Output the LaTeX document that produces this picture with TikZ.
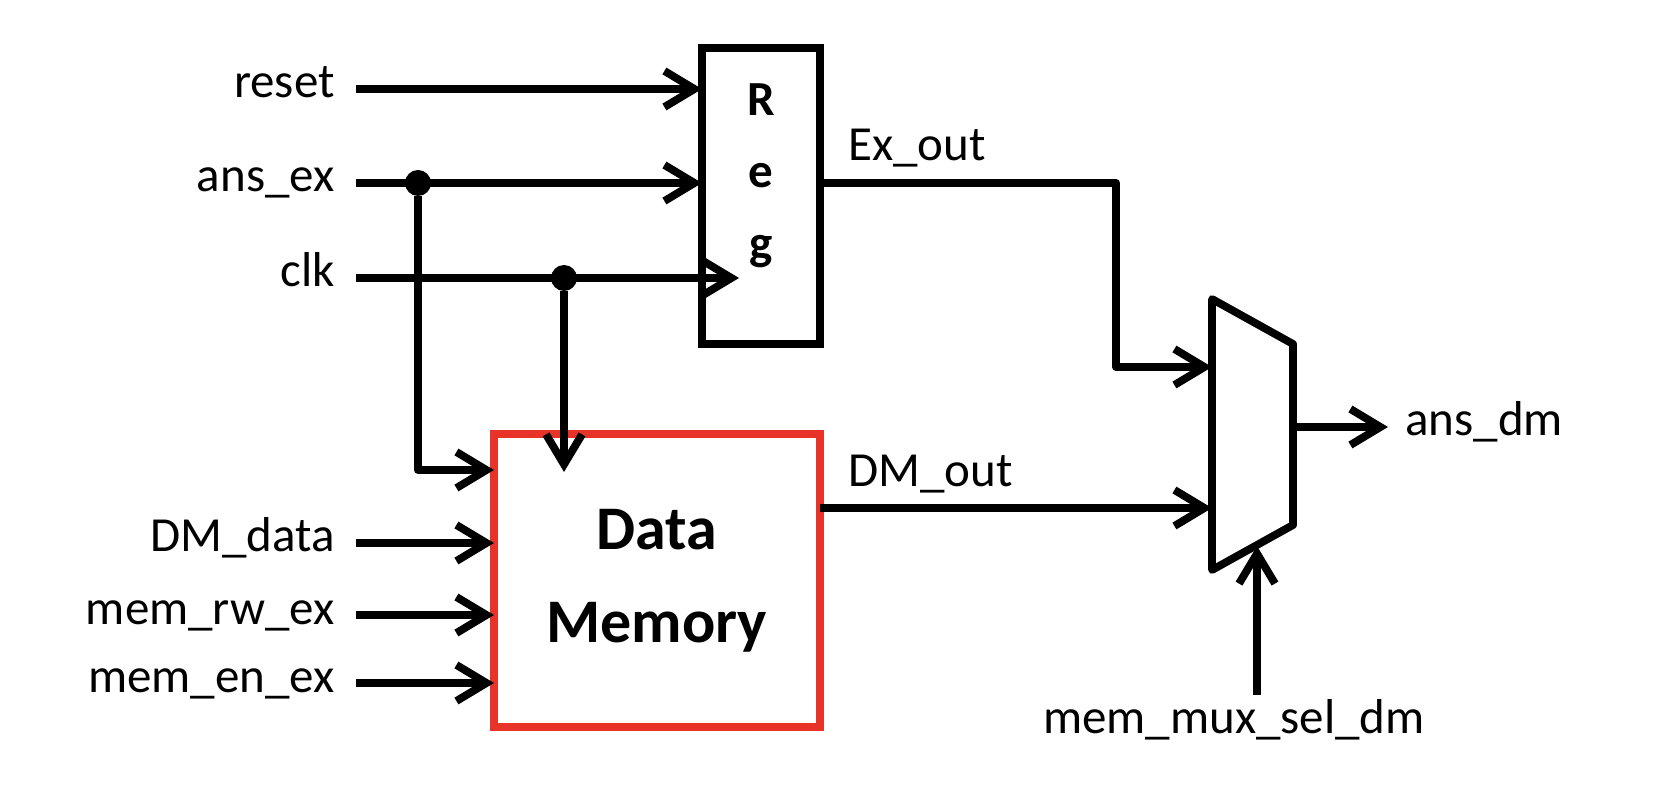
\documentclass[tikz,border=0pt]{standalone}
\usepackage{fontspec}
\setmainfont{Carlito}
\usetikzlibrary{arrows.meta,positioning}
\definecolor{dmred}{RGB}{232,52,40}

\begin{document}
\begin{tikzpicture}[x=0.5pt,y=-0.5pt,>={Straight Barb[length=15pt,width=18pt]},
  wire/.style={line width=3.9pt,line join=round},
  sig/.style={font=\fontsize{24.5}{29}\selectfont,inner ysep=0pt,text height=11pt,text depth=2pt},
  inlabel/.style={sig,anchor=east,inner xsep=10.5pt},
  outlabel/.style={sig,anchor=west,inner xsep=8.5pt},
  wirelabel/.style={font=\fontsize{24.5}{29}\selectfont,anchor=base west,inner sep=0pt},
  junction/.style={circle,fill,inner sep=0pt,minimum size=13pt},
  regbox/.style={draw,line width=3.9pt,outer sep=0pt,minimum width=59pt,minimum height=148pt},
  dmbox/.style={draw=dmred,line width=3.7pt,outer sep=0pt,minimum width=163pt,minimum height=146.5pt,
    align=center,font=\fontsize{31}{46.5}\selectfont\bfseries}]
\useasboundingbox (0,0) rectangle (1676,796);
% blocks
\node (reg) [regbox] at (761,196) {};
\node (regname) [align=center,font=\fontsize{24.5}{36}\selectfont\bfseries] at (761,176) {R\\e\\g};
\node (dm) [dmbox] at (657,580.5) {Data\\Memory};
\coordinate (mux1) at (1212,299);
\coordinate (mux2) at (1293,344);
\coordinate (mux3) at (1293,525);
\coordinate (mux4) at (1212,570);
\draw[wire] (mux1) -- (mux2) -- (mux3) -- (mux4) -- cycle;
\coordinate (muxa) at (1212,367);
\coordinate (muxb) at (1212,508);
\coordinate (muxout) at (1293,427);
\coordinate (muxsel) at (1257,546);
% signals
\node (reset)  [inlabel] at (356,89)  {reset};
\node (ansex)  [inlabel] at (356,183) {ans\_ex};
\node (clk)    [inlabel] at (356,278) {clk};
\node (dmdata) [inlabel] at (356,543) {DM\_data};
\node (memrw)  [inlabel] at (356,615) {mem\_rw\_ex};
\node (memen)  [inlabel] at (356,683) {mem\_en\_ex};
\node (exout)  [wirelabel] at (848,161) {Ex\_out};
\node (dmout)  [wirelabel] at (848,487) {DM\_out};
\node (ansdm)  [outlabel] at (1388,427) {ans\_dm};
\node (memmuxsel) [font=\fontsize{24.5}{29}\selectfont,anchor=base,inner sep=2pt] at (1234,733) {mem\_mux\_sel\_dm};
\node (jans) [junction] at (418,183) {};
\node (jclk) [junction] at (564,278) {};
\coordinate (clkreg) at (739,278);
\coordinate (clkdm) at (564,472);
\coordinate (exbend) at (1116,183);
% wires
\draw[wire,->] (reset.east) -- (reset -| reg.west);
\draw[wire,->] (ansex.east) -- (ansex -| reg.west);
\draw[wire,->] (clk.east) -- (clkreg);
\draw[wire,->] (jans) |- ([yshift=-18pt]dm.north west);
\draw[wire,->] (jclk) -- (clkdm);
\draw[wire,->] (dmdata.east) -- (dmdata -| dm.west);
\draw[wire,->] (memrw.east) -- (memrw -| dm.west);
\draw[wire,->] (memen.east) -- (memen -| dm.west);
\draw[wire,->] (reg.east |- jans) -- (exbend) |- (muxa);
\draw[wire,->] (dm.east |- muxb) -- (muxb);
\draw[wire,->] (muxout) -- (ansdm.west);
\draw[wire,->] (memmuxsel.north -| muxsel) -- (muxsel);
\end{tikzpicture}
\end{document}
